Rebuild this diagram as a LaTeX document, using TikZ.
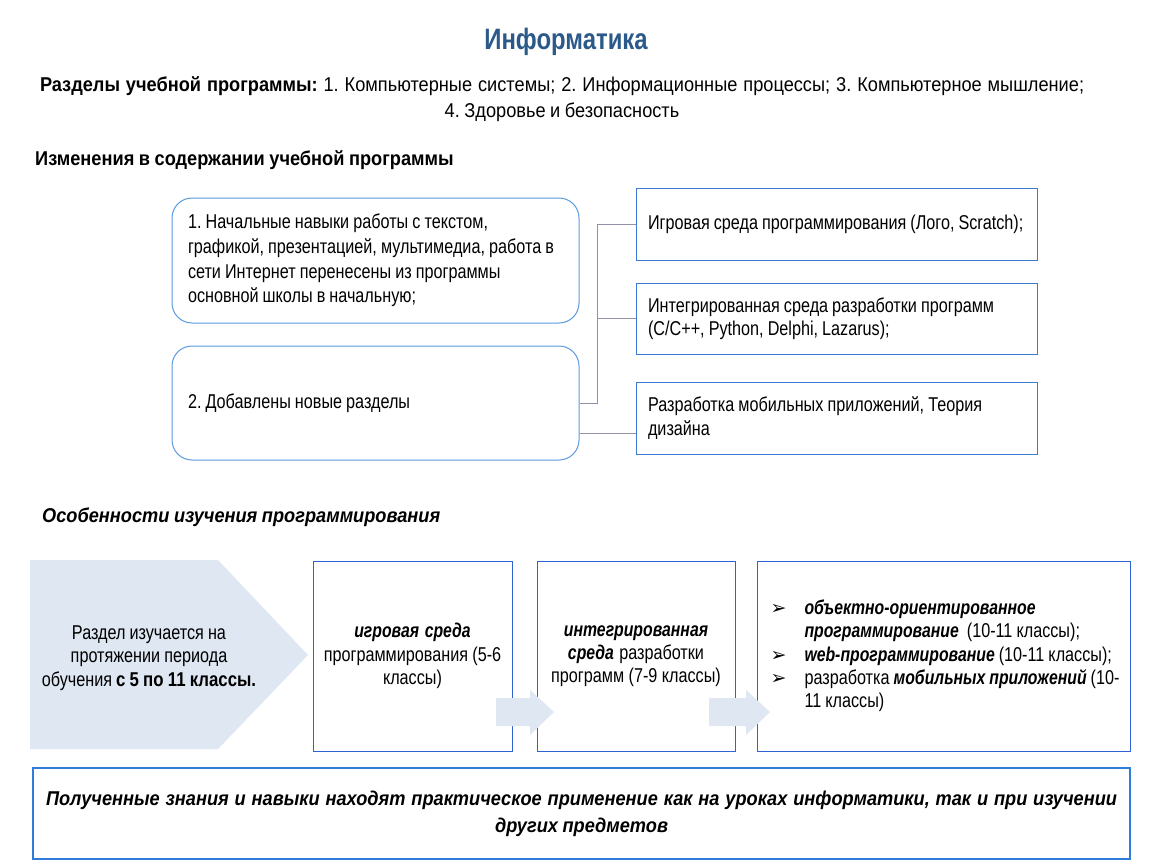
\documentclass[tikz,border=0pt]{standalone}
\usepackage{fontspec}
\setmainfont{Liberation Sans}[FakeStretch=0.81, WordSpace=0.9,
  BoldFeatures={FakeStretch=0.84}, BoldItalicFeatures={FakeStretch=0.79}]
\newfontfamily\headfont{Liberation Sans}[FakeStretch=0.91, WordSpace=0.9]
\newfontfamily\titlefont{Liberation Sans Bold}[FakeStretch=0.81]
\newfontfamily\symfont{DejaVu Sans}
\usetikzlibrary{calc}
\definecolor{titleblue}{HTML}{2B5A8A}
\definecolor{roundblue}{HTML}{5B9BE0}
\definecolor{boxblue}{HTML}{3A7BD5}
\definecolor{flowblue}{HTML}{2F62D8}
\definecolor{botblue}{HTML}{2E7DD9}
\definecolor{connc}{HTML}{9090A8}
\definecolor{pale}{HTML}{DEE7F2}
\newcommand\bodyfs{\fontsize{20}{23.3}\selectfont}
\newcommand\bul{\hspace*{7pt}\makebox[34pt][l]{\symfont\fontsize{19}{20}\selectfont ➢}}
\tikzset{
  every node/.append style={execute at begin node={\spaceskip=0pt\xspaceskip=0pt\frenchspacing}},
  roundbox/.style={draw=roundblue, line width=1pt, rounded corners=20pt, align=left,
    font=\fontsize{20}{24.7}\selectfont, inner xsep=16pt, text width=375pt, minimum height=#1},
  rectbox/.style={draw=boxblue, line width=1pt, align=left, font=\bodyfs,
    inner xsep=12pt, text width=377pt, minimum height=#1},
  flowbox/.style={draw=flowblue, line width=1pt, font=\bodyfs, minimum height=190pt},
  conn/.style={draw=connc, line width=1pt},
  pal/.style={fill=pale, draw=none}
}
\begin{document}
\begin{tikzpicture}[x=1pt,y=-1pt]
\useasboundingbox[fill=white] (0,0) rectangle (1150,864);
% headings
\node[font=\titlefont\fontsize{29.5}{32}\selectfont, text=titleblue] (title) at (566,42) {Информатика};
\node[font=\bodyfs\headfont, inner sep=0pt] (sec1) at (562,86) {\hbox to 1044pt{\textbf{Разделы учебной программы:} 1. Компьютерные системы; 2. Информационные процессы; 3. Компьютерное мышление;}};
\node[font=\bodyfs\headfont] (sec2) at (562,112) {4. Здоровье и безопасность};
\node[font=\bodyfs\headfont\bfseries, anchor=west, inner sep=0pt] (chg) at (35,160) {Изменения в содержании учебной программы};
% rounded boxes
\node[roundbox=125pt, minimum width=407pt] (b1) at (375.5,260.5) {1. Начальные навыки работы с текстом,\\графикой, презентацией, мультимедиа, работа в\\сети Интернет перенесены из программы\\основной школы в начальную;};
\node[roundbox=114pt, minimum width=407pt] (b2) at (375.5,403) {2. Добавлены новые разделы};
% right boxes
\node[rectbox=72pt] (bA) at (836.5,224) {Игровая среда программирования (Лого, Scratch);};
\node[rectbox=71pt] (bB) at (836.5,318.5) {Интегрированная среда разработки программ\\(C/C++, Python,\ Delphi,\ Lazarus);};
\node[rectbox=72pt] (bC) at (836.5,418) {Разработка мобильных приложений, Теория\\дизайна};
% connectors
\coordinate (j) at ($(b2.east)+(18pt,0)$);
\coordinate (k) at ($(b2.east)+(0,-30pt)$);
\draw[conn] (b2.east) -- (j) |- (bA.west);
\draw[conn] (j) |- (bB.west);
\draw[conn] (k) -- (bC.west |- k);
% second part
\node[font=\bodyfs\headfont\bfseries\itshape, anchor=west, inner sep=0pt] (feat) at (42,517) {Особенности изучения программирования};
\fill[pale] (30,560) -- (218,560) -- (308,655) -- (218,749) -- (30,749) -- cycle;
\node[font=\bodyfs, align=center] (pent) at (149,658) {Раздел изучается на\\протяжении периода\\обучения \textbf{с 5 по 11 классы.}};
\node[flowbox, minimum width=199pt, text width=185pt, align=center] (bD) at (412.5,656) {\textbf{\textit{игровая среда}}\\программирования (5-6\\классы)};
\node[flowbox, minimum width=198pt, text width=185pt, align=center] (bE) at (636,656) {\textbf{\textit{интегрированная}}\\\textbf{\textit{среда}} разработки\\программ (7-9 классы)};
\node[flowbox, minimum width=373pt, text width=360pt, inner xsep=6.5pt, align=left] (bF) at (943.5,656) {\bul\textbf{\textit{объектно-ориентированное}}\\\hspace*{41pt}\textbf{\textit{программирование}}\ \ (10-11 классы);\\\bul\textbf{\textit{web-программирование}} (10-11 классы);\\\bul разработка \textbf{\textit{мобильных приложений}} (10-\\\hspace*{41pt}11 классы)};
% block arrows
\fill[pale] (496,698) -- (530,698) -- (530,690) -- (554,712) -- (530,735) -- (530,726) -- (496,726) -- cycle;
\fill[pale] (709,698) -- (746,698) -- (746,690) -- (770,712) -- (746,735) -- (746,726) -- (709,726) -- cycle;
% bottom
\node[draw=botblue, line width=2.5pt, minimum width=1097pt, minimum height=91pt, text width=1071pt, inner xsep=13pt, align=center, font=\fontsize{20}{27}\selectfont\headfont\bfseries\itshape] (bot) at (581.5,813.5) {\hbox to 1071pt{Полученные знания и навыки находят практическое применение как на уроках информатики, так и при изучении}\\\hbox to 1071pt{\hfil других предметов\hfil}};
\end{tikzpicture}
\end{document}
